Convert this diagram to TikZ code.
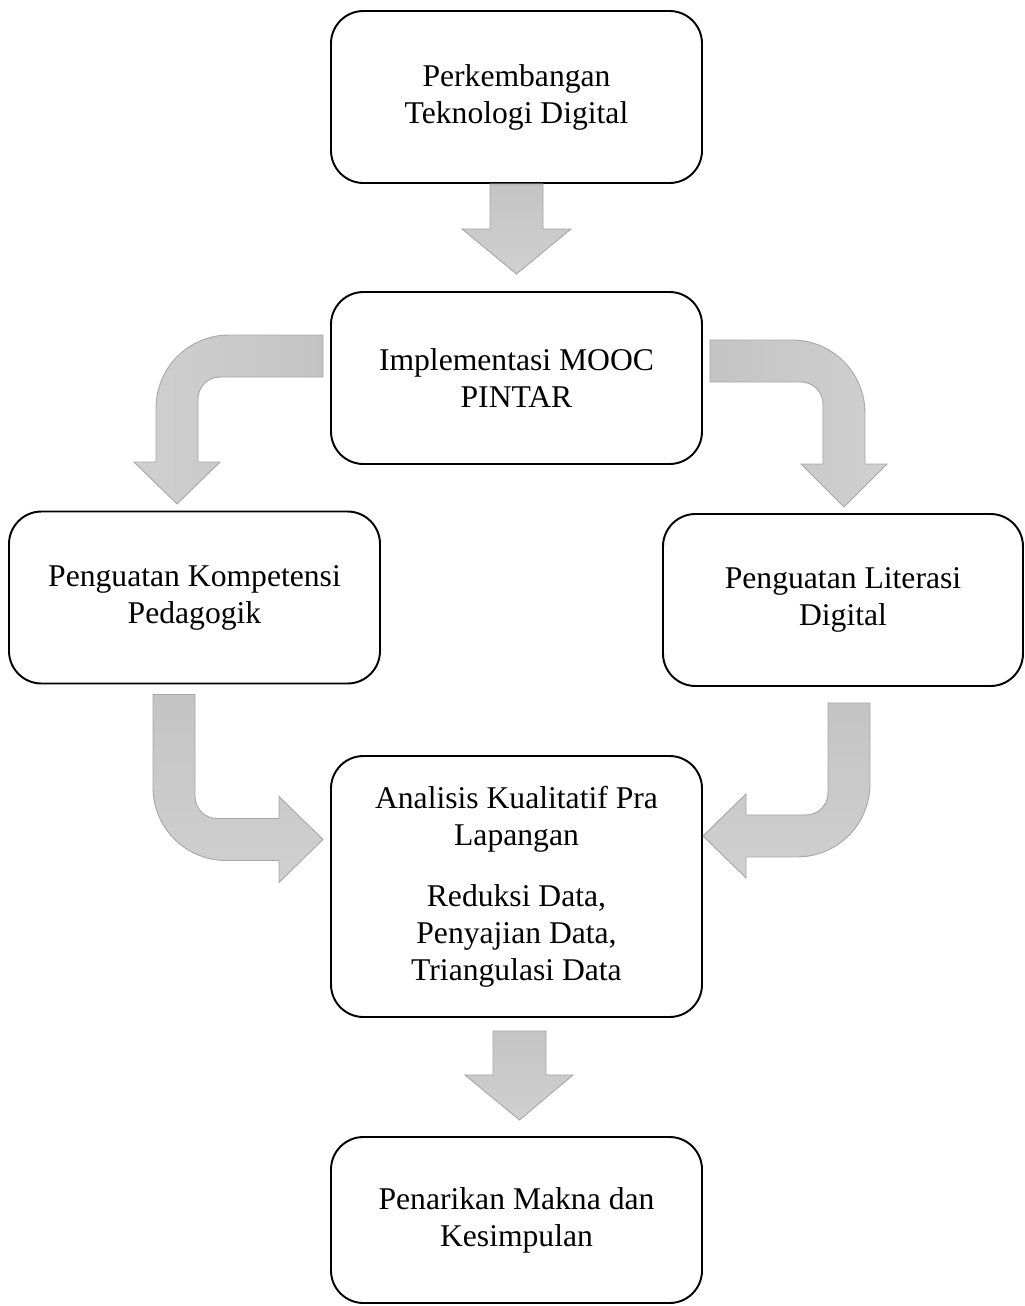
\documentclass[tikz,border=0pt]{standalone}
\usepackage{fontspec}
\setmainfont{Liberation Serif}
\definecolor{arrowdark}{RGB}{196,196,196}
\definecolor{arrowlight}{RGB}{208,208,208}
\definecolor{arrowline}{RGB}{166,166,166}
\tikzset{
  box/.style={draw,line width=1.1pt,rounded corners=6.5mm,align=center,minimum width=74.2mm,minimum height=34.4mm,font=\fontsize{18}{21}\selectfont},
  blockarrow/.style={draw=arrowline,line width=0.5pt}
}
\begin{document}
\begin{tikzpicture}[x=0.2mm,y=-0.2mm]
\useasboundingbox (0,0) rectangle (1025,1306);
\node[box] (1) at (516.5,97) {Perkembangan\\Teknologi Digital};
\node[box] (2) at (516.5,378) {Implementasi MOOC\\PINTAR};
\node[box] (3) at (194.5,597.5) {Penguatan Kompetensi\\Pedagogik};
\node[box,minimum width=72mm] (4) at (843,600) {Penguatan Literasi\\Digital};
\node[box,minimum height=52.2mm] (5) at (516.5,886.5) {Analisis Kualitatif Pra\\Lapangan\\[4.8mm]Reduksi Data,\\Penyajian Data,\\Triangulasi Data};
\node[box,minimum height=33.2mm] (6) at (516.5,1220) {Penarikan Makna dan\\Kesimpulan};
% straight arrows
\begin{scope}[shift={(1.south)}]
\path[blockarrow,top color=arrowdark,bottom color=arrowlight] (-26.5,0) -- (26.5,0) -- (26.5,45) -- (54.5,45) -- (0,90) -- (-54.5,45) -- (-26.5,45) -- cycle;
\end{scope}
\begin{scope}[shift={(5.south)}]
\path[blockarrow,top color=arrowdark,bottom color=arrowlight] (-23.5,13) -- (29.5,13) -- (29.5,57) -- (56.5,57) -- (3,102) -- (-51.5,57) -- (-23.5,57) -- cycle;
\end{scope}
% bent arrows
\begin{scope}[shift={(2.west)}]
\path[blockarrow,left color=arrowlight,right color=arrowdark] (-7,-43) -- (-101,-43) arc[start angle=90,end angle=180,radius=14.6mm] -- (-174,84) -- (-196,84) -- (-153,126) -- (-110,84) -- (-132,84) -- (-132,21) arc[start angle=180,end angle=90,radius=4.4mm] -- (-7,-1) -- cycle;
\end{scope}
\begin{scope}[shift={(2.east)}]
\path[blockarrow,left color=arrowdark,right color=arrowlight] (7,-38) -- (89,-38) arc[start angle=90,end angle=0,radius=14.6mm] -- (162,86) -- (184,86) -- (141,129) -- (98,86) -- (120,86) -- (120,26) arc[start angle=0,end angle=90,radius=4.4mm] -- (7,4) -- cycle;
\end{scope}
\begin{scope}[shift={(3.south)}]
\path[blockarrow,top color=arrowdark,bottom color=arrowlight] (-41.5,10) -- (-41.5,103) arc[start angle=180,end angle=270,radius=14.6mm] -- (84.5,176) -- (84.5,198) -- (128.5,155) -- (84.5,112) -- (84.5,134) -- (22.5,134) arc[start angle=270,end angle=180,radius=4.4mm] -- (0.5,10) -- cycle;
\end{scope}
\begin{scope}[shift={(4.south)}]
\path[blockarrow,top color=arrowdark,bottom color=arrowlight] (27,16) -- (27,97) arc[start angle=0,end angle=-90,radius=14.6mm] -- (-97,170) -- (-97,191) -- (-140,149) -- (-97,107) -- (-97,128) -- (-37,128) arc[start angle=-90,end angle=0,radius=4.4mm] -- (-15,16) -- cycle;
\end{scope}
\end{tikzpicture}
\end{document}
